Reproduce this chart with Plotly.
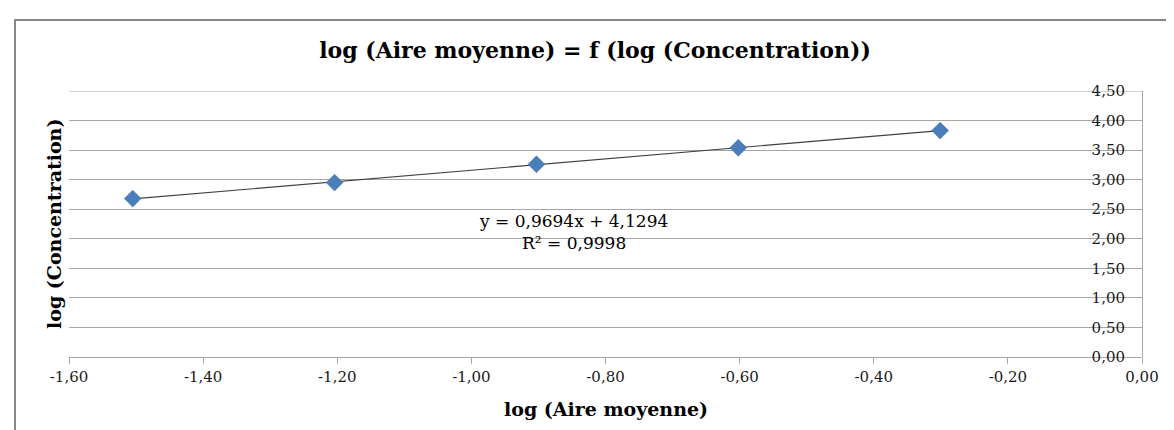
import numpy as np
import plotly.graph_objects as go

# données
log_aire = [-1.505, -1.204, -0.903, -0.602, -0.301]
log_conc = [2.68, 2.95, 3.26, 3.54, 3.83]

x_ticks = [-1.6, -1.4, -1.2, -1.0, -0.8, -0.6, -0.4, -0.2, 0.0]
x_labels = ['-1,60', '-1,40', '-1,20', '-1,00', '-0,80', '-0,60', '-0,40', '-0,20', '0,00']
y_ticks = [0, 0.5, 1, 1.5, 2, 2.5, 3, 3.5, 4, 4.5]
y_labels = ['0,00', '0,50', '1,00', '1,50', '2,00', '2,50', '3,00', '3,50', '4,00', '4,50']

eq_text = 'y = 0,9694x + 4,1294<br>R² = 0,9998'

FONT = 'DejaVu Serif'
GRID = '#a6a6a6'

# courbe de tendance linéaire
pente, orig = np.polyfit(log_aire, log_conc, 1)
xt = np.array([min(log_aire), max(log_aire)])
yt = pente * xt + orig

fig = go.Figure()
fig.add_trace(go.Scatter(
    x=xt, y=yt, mode='lines',
    line=dict(color='#3f3f3f', width=1.2),
    showlegend=False, hoverinfo='skip'
))
fig.add_trace(go.Scatter(
    x=log_aire, y=log_conc, mode='markers',
    marker=dict(symbol='diamond', size=13, color='#4a7ebb',
                line=dict(color='#3d6fa8', width=0.5)),
    showlegend=False
))

fig.update_layout(
    width=1174, height=430,
    margin=dict(l=61, r=40, t=83, b=81),
    paper_bgcolor='white', plot_bgcolor='white',
    font=dict(family=FONT, color='#1a1a1a', size=15),
    title=dict(text='<b>log (Aire moyenne) = f (log (Concentration))</b>',
               x=0.5, xanchor='center', y=1 - 42 / 430, yanchor='middle',
               font=dict(size=22, color='black')),
    xaxis=dict(
        range=[-1.6, 0.0], tickvals=x_ticks, ticktext=x_labels,
        domain=[0, 1],
        showgrid=False, zeroline=False,
        showline=True, linecolor=GRID, linewidth=1,
        ticks='outside', ticklen=6, tickcolor=GRID,
        tickfont=dict(size=15), fixedrange=True
    ),
    yaxis=dict(
        range=[0, 4.5], tickvals=y_ticks, ticktext=y_labels,
        side='left', anchor='free', position=1, ticklabelstandoff=14,
        showgrid=True, gridcolor=GRID, gridwidth=1, zeroline=False,
        showline=True, linecolor=GRID, linewidth=1,
        ticks='', tickfont=dict(size=15), fixedrange=True
    ),
    annotations=[
        dict(text='<b>log (Aire moyenne)</b>', xref='paper', yref='paper',
             x=0.5, y=-52 / 266, xanchor='center', yanchor='middle',
             showarrow=False, font=dict(size=19, color='black')),
        dict(text='<b>log (Concentration)</b>', xref='paper', yref='paper',
             x=-15 / 1073, y=0.5, xanchor='center', yanchor='middle',
             textangle=-90, showarrow=False, font=dict(size=19, color='black')),
        dict(text=eq_text, xref='x', yref='y', x=-0.848, y=2.12,
             xanchor='center', yanchor='middle', showarrow=False,
             font=dict(size=17, color='black')),
    ],
    shapes=[
        # cadre du graphique
        dict(type='rect', xref='paper', yref='paper',
             x0=(7 - 61) / 1073, x1=(1185 - 61) / 1073,
             y0=(349 - 440) / 266, y1=(349 - 12) / 266,
             line=dict(color='#878787', width=2), fillcolor='rgba(0,0,0,0)',
             layer='below'),
        # ligne de grille du haut (masquée par plotly au bord)
        dict(type='line', xref='paper', yref='y',
             x0=0, x1=1, y0=y_ticks[-1], y1=y_ticks[-1],
             line=dict(color=GRID, width=1), layer='below'),
    ],
)

fig.write_html('out.html')
